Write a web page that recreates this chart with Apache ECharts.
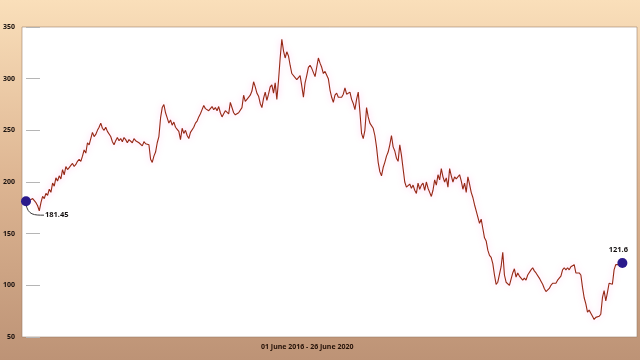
<!DOCTYPE html>
<html>
<head>
<meta charset="utf-8">
<script src="https://cdn.jsdelivr.net/npm/echarts@6/dist/echarts.min.js"></script>
<style>html,body{margin:0;padding:0;}#c{width:640px;height:360px;}</style>
</head>
<body>
<div id="c"></div>
<script>
// Daily closing price samples, 01 June 2016 - 26 June 2020 (evenly spaced samples)
const values = [
181.45,180,182,181,184,183,180,177,172,180,
186,184,189,187,193,190,199,196,204,201,
206,203,212,207,215,212,214,216,218,215,
217,220,222,220,225,231,228,238,236,242,
248,244,246,250,253,257,252,250,253,249,
248,244,239,236,240,243,240,242,239,243,
241,
238,241,240,238,242,240,241,238,237,235,
239,237,238,236,222,219,225,229,238,244,
262,272,275,267,262,257,260,255,258,253,
251,249,241,252,247,250,245,242,248,249,
253,257,259,263,266,270,274,271,272,269,
271,273,270,272,269,273,267,263,266,269,
270,266,277,277,267,265,
264,267,268,272,284,278,280,281,284,288,
297,292,286,283,276,272,281,287,279,285,
292,294,286,296,280,298,320,338,327,320,
326,322,313,305,306,301,299,299,303,293,
282,296,303,311,313,310,311,302,303,320,
315,311,305,307,306,300,289,282,277,284,
286,
282,283,282,285,291,285,284,287,280,276,
270,280,287,268,247,242,250,272,263,257,
258,252,245,234,219,210,206,214,219,225,
229,236,245,234,230,223,220,236,226,213,
200,195,195,198,194,197,192,189,199,193,
197,199,192,200,194,190,186,192,202,197,
207,202,213,
205,200,204,195,213,206,200,205,203,202,
207,201,193,199,190,205,198,190,185,178,
172,166,160,164,155,146,143,134,129,127,
121,110,101,103,102,118,132,110,103,102,
100,99,112,116,108,112,109,107,105,107,
105,110,111,115,117,114,112,113,107,104,
101,97,94,95,
97,100,102,103,102,105,104,109,115,117,
115,117,115,118,117,120,112,113,112,110,
98,88,82,74,76,73,70,67,69,68,
70,72,88,95,85,93,102,103,101,115,
120,119,120,121,121.6
];
const periodLabel = '01 June 2016 - 26 June 2020';
const yMin = 50, yMax = 350, yStep = 50;

const lineData = values.map((v, i) => [i, v]);
const lastIdx = values.length - 1;
const FONT = '"Noto Sans", "Open Sans", sans-serif';
const labelFont = { fontFamily: FONT, fontWeight: 'bold', fontSize: 7.5, color: '#141010' };

const chart = echarts.init(document.getElementById('c'), null, { renderer: 'canvas' });
chart.setOption({
  animation: false,
  backgroundColor: {
    type: 'linear', x: 0, y: 0, x2: 0, y2: 1,
    colorStops: [{ offset: 0, color: '#fadfba' }, { offset: 0.5, color: '#ddb592' }, { offset: 1, color: '#bd9376' }]
  },
  grid: {
    left: 20, right: 3, top: 27, bottom: 23,
    show: true, backgroundColor: '#ffffff',
    borderColor: 'rgba(150,120,100,0.55)', borderWidth: 1
  },
  xAxis: {
    type: 'value', min: -2.4, max: 367.8,
    axisLine: { show: false }, axisTick: { show: false },
    axisLabel: { show: false }, splitLine: { show: false }
  },
  yAxis: {
    type: 'value', min: yMin, max: yMax, interval: yStep,
    axisLine: { show: false },
    axisTick: { show: true, inside: true, length: 14, lineStyle: { color: '#b5b5b5', width: 1 } },
    axisLabel: { margin: 7, fontFamily: FONT, fontWeight: 'bold', fontSize: 7, color: '#1a1210' },
    splitLine: { show: false }
  },
  series: [
    {
      type: 'line', data: lineData, showSymbol: false, smooth: false,
      lineStyle: { color: '#952815', width: 1.1, shadowColor: 'rgba(255,110,210,0.4)', shadowBlur: 6 },
      z: 2
    },
    {
      type: 'scatter', symbolSize: 10, z: 5,
      itemStyle: { color: '#2a1a8c', opacity: 1 },
      data: [[0, values[0]]],
      label: Object.assign({ show: true, position: 'right', distance: 5, formatter: String(values[0]) }, labelFont),
      labelLayout: { dx: 9, dy: 14 }
    },
    {
      type: 'scatter', symbolSize: 10, z: 5,
      itemStyle: { color: '#2a1a8c', opacity: 1 },
      data: [[lastIdx, values[lastIdx]]],
      label: Object.assign({ show: true, position: 'top', distance: 4, offset: [-4, 0], formatter: String(values[lastIdx]) }, labelFont)
    }
  ]
});

// Curved connector from the first point to its label, positioned through the chart's own scales
const p0 = chart.convertToPixel({ gridIndex: 0 }, [0, values[0]]);
chart.setOption({
  graphic: [
    {
      type: 'text', left: 261, top: 343,
      style: { text: periodLabel, font: 'bold 7px "Noto Sans", sans-serif', fill: '#241208' }
    },
    {
      type: 'bezierCurve', z: 4, silent: true,
      shape: { x1: p0[0], y1: p0[1] + 3, cpx1: p0[0] + 2, cpy1: p0[1] + 14, cpx2: p0[0] + 8, cpy2: p0[1] + 14, x2: p0[0] + 18, y2: p0[1] + 14 },
      style: { stroke: '#3a3a3a', lineWidth: 1, fill: null }
    }
  ]
});
</script>
</body>
</html>
